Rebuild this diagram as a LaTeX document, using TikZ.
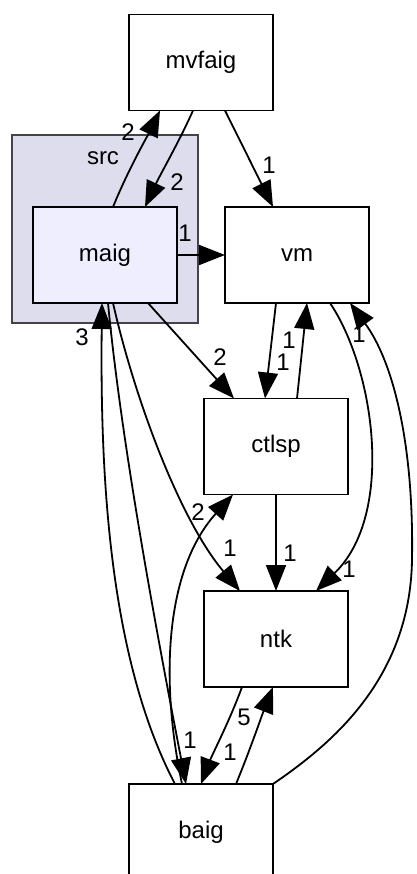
\documentclass[tikz,border=0pt]{standalone}
\usepackage{fontspec}
\setmainfont{Liberation Sans}
\usetikzlibrary{arrows.meta}
\definecolor{clusterfill}{HTML}{DDDDEE}
\definecolor{clusterline}{HTML}{444444}
\definecolor{mainfill}{HTML}{EEEEFF}
\tikzset{
  dirbox/.style={draw=black, line width=1.8pt, fill=white, minimum width=144pt,
    minimum height=96pt, inner sep=0pt, outer sep=0pt, font=\fontsize{24}{28}\selectfont},
  dep/.style={line width=1.8pt, -{Triangle[length=26pt,width=20pt]}},
  lbl/.style={font=\fontsize{24}{28}\selectfont, inner sep=0pt}
}
\begin{document}
\begin{tikzpicture}[x=1pt,y=-1pt]
\useasboundingbox (0,0) rectangle (416,874);
% cluster
\node[draw=clusterline, line width=1.8pt, fill=clusterfill, minimum width=186pt,
  minimum height=188pt, inner sep=0pt, outer sep=0pt] (src) at (105,229) {};
\node[lbl] (srclbl) at (103,158) {src};
% nodes
\node[dirbox] (mvfaig) at (201,62.5) {mvfaig};
\node[dirbox, fill=mainfill] (maig) at (105,255) {maig};
\node[dirbox] (vm) at (297,255) {vm};
\node[dirbox] (ctlsp) at (276,446.5) {ctlsp};
\node[dirbox] (ntk) at (276,639) {ntk};
\node[dirbox] (baig) at (201,832) {baig};
% edges
\draw[dep] ([xshift=8pt]maig.north) .. controls (128,170) and (148,135) .. ([xshift=-41pt]mvfaig.south);
\node[lbl] (l1) at (128,132) {2};
\draw[dep] ([xshift=-8pt]mvfaig.south) .. controls (180,140) and (160,175) .. ([xshift=40pt]maig.north);
\node[lbl] (l2) at (177,182) {2};
\draw[dep] ([xshift=24pt]mvfaig.south) -- ([xshift=-24pt]vm.north);
\node[lbl] (l3) at (269,165) {1};
\draw[dep] (maig.east) -- (vm.west);
\node[lbl] (l4) at (185,233) {1};
\draw[dep] ([xshift=43pt]maig.south) -- ([xshift=-42pt]ctlsp.north);
\node[lbl] (l5) at (220,357) {2};
\draw[dep] ([xshift=-21pt]vm.south) -- ([xshift=-11pt]ctlsp.north);
\node[lbl] (l6) at (283,362) {1};
\draw[dep] ([xshift=21pt]ctlsp.north) -- ([xshift=10pt]vm.south);
\node[lbl] (l7) at (289,340) {1};
\draw[dep] ([xshift=33pt]vm.south) .. controls (375,370) and (395,515) .. ([xshift=40pt]ntk.north);
\node[lbl] (l8) at (349,569) {1};
\draw[dep] (baig.north east) .. controls (330,745) and (410,680) .. (412,560)
  .. controls (414,440) and (392,360) .. ([xshift=53pt]vm.south);
\node[lbl] (l9) at (359,334) {1};
\draw[dep] (ctlsp.south) -- (ntk.north);
\node[lbl] (l10) at (290,553) {1};
\draw[dep] ([xshift=8pt]maig.south) .. controls (135,400) and (180,520) .. ([xshift=-36pt]ntk.north);
\node[lbl] (l11) at (230,548) {1};
\draw[dep] ([xshift=-19pt]baig.north) .. controls (160,680) and (165,570) .. ([xshift=-43pt]ctlsp.south);
\node[lbl] (l12) at (198,512) {2};
\draw[dep] ([xshift=-26pt]baig.north) .. controls (110,660) and (100,480) .. ([xshift=-3pt]maig.south);
\node[lbl] (l13) at (82,337) {3};
\draw[dep] ([xshift=3pt]maig.south) .. controls (122,450) and (160,650) .. ([xshift=-15pt]baig.north);
\node[lbl] (l14) at (190,740) {1};
\draw[dep] ([xshift=-34pt]ntk.south) .. controls (230,720) and (212,755) .. (baig.north);
\node[lbl] (l15) at (230,752) {1};
\draw[dep] ([xshift=35pt]baig.north) .. controls (250,750) and (262,715) .. ([xshift=-3pt]ntk.south);
\node[lbl] (l16) at (244,717) {5};
\end{tikzpicture}
\end{document}
